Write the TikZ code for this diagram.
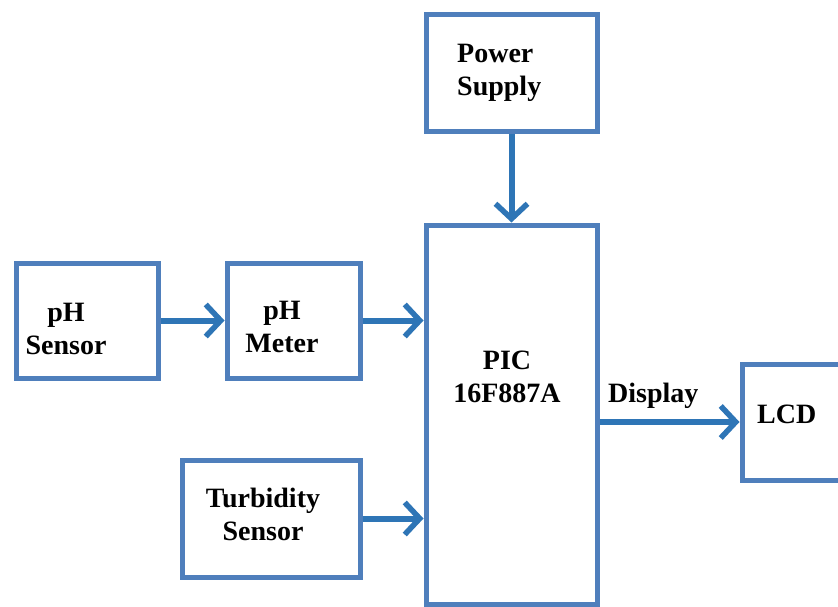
\documentclass[tikz,border=0pt]{standalone}
\usepackage{fontspec}
\setmainfont{Liberation Serif}
\usetikzlibrary{arrows.meta}
\definecolor{boxblue}{HTML}{4F7FBC}
\definecolor{arrblue}{HTML}{2E75B6}
\tikzset{
  blk/.style={draw=boxblue, line width=5pt, rectangle, inner sep=0pt, fill=white},
  lbl/.style={font=\fontsize{28}{33}\selectfont\bfseries, text=black, inner sep=0pt},
  arr/.style={draw=arrblue, line width=6pt, -{Straight Barb[length=15pt,width=32pt,line width=5.5pt]}},
}
\begin{document}
\begin{tikzpicture}[x=1pt,y=-1pt]
\useasboundingbox (0,0) rectangle (838,607);
\clip (0,0) rectangle (838,607);
\fill[white] (0,0) rectangle (838,607);
% boxes
\node[blk, minimum width=171pt, minimum height=117pt] (ps) at (511.5,73.5) {};
\node[blk, minimum width=171pt, minimum height=379pt] (pic) at (511.5,414.5) {};
\node[blk, minimum width=142pt, minimum height=115pt] (phs) at (87,320.5) {};
\node[blk, minimum width=133pt, minimum height=115pt] (phm) at (293.5,320.5) {};
\node[blk, minimum width=178pt, minimum height=117pt] (tb) at (271,518.5) {};
\node[blk, minimum width=160pt, minimum height=116pt] (lcd) at (822,422) {};
% labels
\node[lbl, align=left, anchor=west] (tps) at (457,73) {Power\\Supply};
\node[lbl, align=center] (tpic) at (507,377) {PIC\\16F887A};
\node[lbl, align=center] (tphs) at (66,329) {pH\\Sensor};
\node[lbl, align=center] (tphm) at (282,327) {pH\\Meter};
\node[lbl, align=center] (ttb) at (263,514) {Turbidity\\Sensor};
\node[lbl, anchor=base west] (tlcd) at (757,423) {LCD};
\node[lbl, anchor=base west] (tdisp) at (608,402) {Display};
% arrows
\draw[arr] (ps.south) -- (pic.north);
\draw[arr] (phs.east) -- (phm.west);
\draw[arr] (phm.east) -- (phm.east -| pic.west);
\draw[arr] (tb.east) -- (tb.east -| pic.west);
\draw[arr] (pic.east |- lcd.west) -- (lcd.west);
\end{tikzpicture}
\end{document}
